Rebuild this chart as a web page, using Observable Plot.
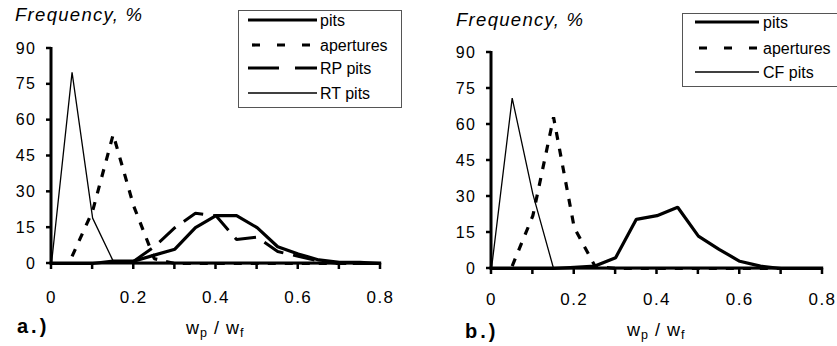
<!DOCTYPE html>
<html><head><meta charset="utf-8">
<script src="https://cdn.jsdelivr.net/npm/d3@7"></script>
<script src="https://cdn.jsdelivr.net/npm/@observablehq/plot@0.6"></script>
<style>
body{margin:0;background:#fff;}
#wrap{position:relative;width:837px;height:346px;overflow:hidden;background:#fff;font-family:"Liberation Sans",Arial,sans-serif;color:#000;}
#wrap > svg{position:absolute;top:0;}
#overlay{left:0;pointer-events:none;}
</style>
</head><body>
<div id="wrap"></div>
<script>
// ---------- data ----------
const xValues = [0,0.05,0.1,0.15,0.2,0.25,0.3,0.35,0.4,0.45,0.5,0.55,0.6,0.65,0.7,0.75,0.8];
// panel a.)
const aPits      = [0,0,0,1,1,3.5,6,15,20,20,15,7,4,1.5,0.5,0.5,0];
const aApertures = [null,3,22,54,24,2,0,0,0,0,0,0,0,0,0,0,0];
const aRPPits    = [null,null,null,null,1,7,15,21,20,10,11,5,3,1,0,0,0];
const aRTPits    = [0,80,19,1,0,0,0,0,0,0,0,0,0,0,0,0,0];
// panel b.)
const bPits      = [0,0,0,0,0.5,1,4.5,20.5,22,25.5,13.5,8,3,1,0,0,0];
const bApertures = [null,1,22,63,17,1,0,0,0,0,0,0,0,0,0,0,0];
const bCFPits    = [0,71,31,0,0,0,0,0,0,0,0,0,0,0,0,0,0];
// ticks & labels
const yTicks = [0,15,30,45,60,75,90];
const xTicks = [0,0.1,0.2,0.3,0.4,0.5,0.6,0.7,0.8];
const xTickLabels = [0,0.2,0.4,0.6,0.8];
const seriesNamesA = ["pits","apertures","RP pits","RT pits"];
const seriesNamesB = ["pits","apertures","CF pits"];
const yTitle = "Frequency, %";
const panelLabels = ["a.)","b.)"];

// ---------- styles ----------
const INK = "#000";
const styles = {
  "pits":      {w:3.2, dash:null,   legendDash:null},
  "apertures": {w:3.2, dash:"8,9",  legendDash:"8,17", legendOffset:-4},
  "RP pits":   {w:3,   dash:"22,10",legendDash:"31,16"},
  "RT pits":   {w:1.3, dash:null,   legendDash:null},
  "CF pits":   {w:1.3, dash:null,   legendDash:null}
};

function rowsOf(names, arrays){
  const rows = [];
  names.forEach((n,i)=>{
    arrays[i].forEach((v,j)=>rows.push({series:n, x:xValues[j], y:v}));
  });
  return rows;
}

function makePanel({names, arrays, width, mL, mR, mT, mB, xPad}){
  const rows = rowsOf(names, arrays);
  const lineMarks = names.slice().reverse().map(n => Plot.line(rows.filter(d=>d.series===n), {
    x:"x", y:"y", stroke:INK, strokeWidth:styles[n].w,
    strokeDasharray: styles[n].dash || undefined, strokeLinejoin:"miter", strokeLinecap:"butt"
  }));
  const svg = Plot.plot({
    width, height:346,
    marginLeft:mL, marginRight:mR, marginTop:mT, marginBottom:mB,
    style:{background:"transparent", color:INK, fontFamily:"'Liberation Sans',Arial,sans-serif"},
    x:{domain:[0,0.8], label:null},
    y:{domain:[0,90], label:null},
    marks:[
      Plot.axisY({ticks:yTicks, tickSize:0, tickPadding:15, fontSize:16, fill:INK, label:null}),
      Plot.axisX({ticks:xTicks, tickSize:0, tickPadding:xPad + 6, fontSize:17, fill:INK, label:null,
        tickFormat:d => xTickLabels.some(t=>Math.abs(t-d)<1e-9) ? String(+d.toFixed(1)) : ""}),
      ...lineMarks
    ]
  });
  d3.select(svg).selectAll("text").style("letter-spacing","1.5px").attr("fill", INK);
  return svg;
}

const wrap = document.getElementById("wrap");
const panelA = {left:0};
const panelB = {left:419};
const pa = makePanel({names:seriesNamesA, arrays:[aPits,aApertures,aRPPits,aRTPits], width:418, mL:51, mR:38, mT:48, mB:83, xPad:21});
pa.style.left = panelA.left + "px";
wrap.appendChild(pa);
const pb = makePanel({names:seriesNamesB, arrays:[bPits,bApertures,bCFPits], width:418, mL:72, mR:15, mT:52, mB:78, xPad:18});
pb.style.left = panelB.left + "px";
wrap.appendChild(pb);

// ---------- overlay: axes (via Plot's scales), titles, legends ----------
const ov = d3.select(wrap).append("svg").attr("id","overlay").attr("width",837).attr("height",346)
  .style("font-family","'Liberation Sans',Arial,sans-serif");

function drawAxes(plot, left){
  const sx = plot.scale("x"), sy = plot.scale("y");
  const X = v => left + sx.apply(v), Y = v => sy.apply(v);
  const g = ov.append("g").attr("stroke", INK);
  xTicks.forEach(t => g.append("line").attr("x1",X(t)).attr("x2",X(t)).attr("y1",Y(0)).attr("y2",Y(0)+6).attr("stroke-width",2.5));
  yTicks.forEach(t => g.append("line").attr("x1",X(0)-5).attr("x2",X(0)).attr("y1",Y(t)).attr("y2",Y(t)).attr("stroke-width",2.5));
  g.append("line").attr("x1",X(0)).attr("x2",X(0)).attr("y1",Y(90)-1).attr("y2",Y(0)+1.5).attr("stroke-width",3);
  g.append("line").attr("x1",X(0)-1.5).attr("x2",X(0.8)+1.2).attr("y1",Y(0)).attr("y2",Y(0)).attr("stroke-width",3);
}
drawAxes(pa, panelA.left);
drawAxes(pb, panelB.left);

function yTitleText(x,y){
  ov.append("text").attr("x",x).attr("y",y).attr("font-size",18.5).attr("font-style","italic").attr("fill",INK)
    .style("letter-spacing","1.3px").text(yTitle);
}
yTitleText(15,21);
yTitleText(456,25.5);

function panelLabel(x,y,t){
  ov.append("text").attr("x",x).attr("y",y).attr("font-size",20).attr("font-weight","bold").attr("fill",INK)
    .style("letter-spacing","3px").text(t);
}
panelLabel(17,333,panelLabels[0]);
panelLabel(465,338,panelLabels[1]);

function xTitle(x,y){
  const t = ov.append("text").attr("x",x).attr("y",y).attr("font-size",18).attr("fill",INK)
    .style("white-space","pre").style("letter-spacing","1px");
  t.append("tspan").text("w");
  t.append("tspan").attr("font-size",12.5).attr("dy",3).text("p");
  t.append("tspan").attr("dy",-3).text(" / w");
  t.append("tspan").attr("font-size",12.5).attr("dy",3).text("f");
}
xTitle(186,334);
xTitle(627,336);

function legend({x,y,w,h,names,rows,lx1,lx2,tx}){
  ov.append("rect").attr("x",x+0.5).attr("y",y+0.5).attr("width",w).attr("height",h)
    .attr("fill","#fff").attr("stroke","#555").attr("stroke-width",1);
  names.forEach((n,i)=>{
    const s = styles[n];
    const ln = ov.append("line").attr("x1",lx1).attr("x2",lx2).attr("y1",rows[i]).attr("y2",rows[i])
      .attr("stroke",INK).attr("stroke-width",s.w);
    if (s.legendDash) ln.attr("stroke-dasharray",s.legendDash).attr("stroke-dashoffset",s.legendOffset||0);
    ov.append("text").attr("x",tx).attr("y",rows[i]+6).attr("font-size",16).attr("fill",INK).text(n);
  });
}
legend({x:238,y:10,w:163,h:97,names:seriesNamesA,rows:[20,45,68,93],lx1:248,lx2:317,tx:320});
legend({x:682,y:13,w:170,h:73,names:seriesNamesB,rows:[22,48,72],lx1:695,lx2:759,tx:763});
</script>
</body></html>
